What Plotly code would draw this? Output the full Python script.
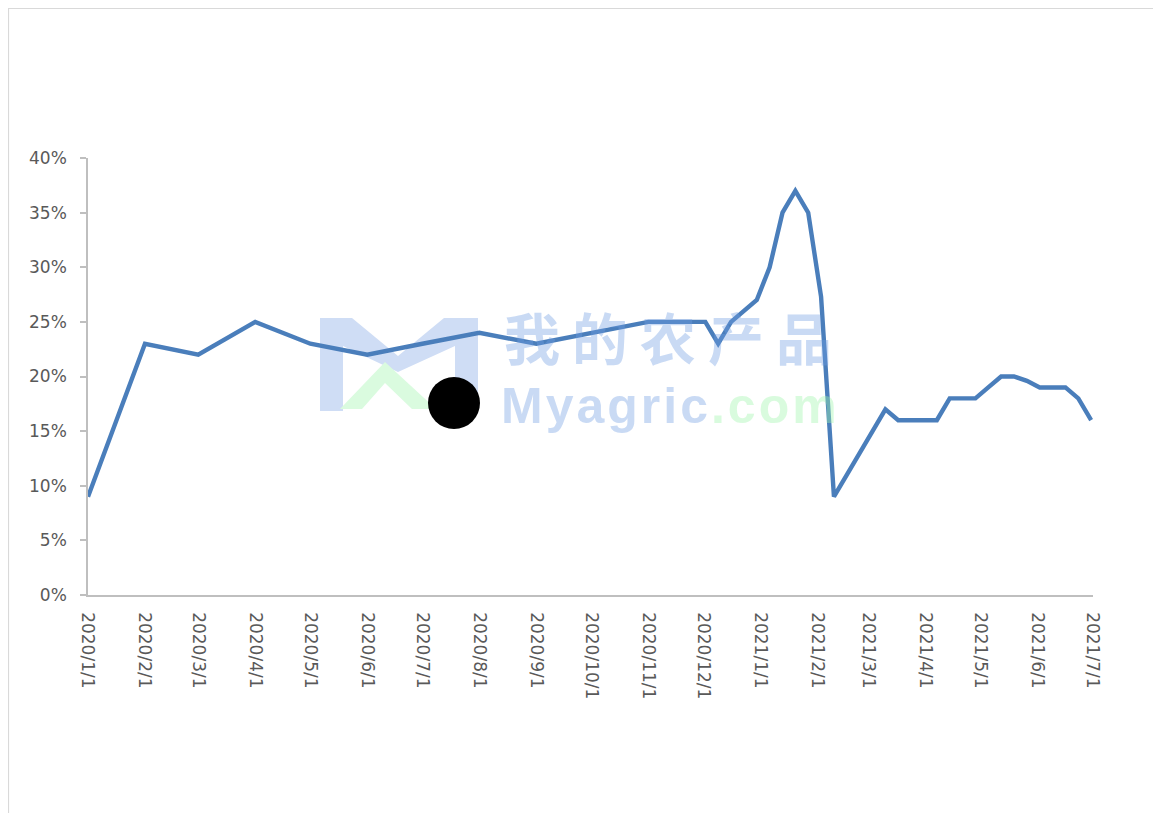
import plotly.graph_objects as go

# ---- data ----
dates = [
    "2020-01-01", "2020-02-01", "2020-03-01", "2020-04-01", "2020-05-01", "2020-06-01",
    "2020-07-01", "2020-08-01", "2020-09-01", "2020-10-01", "2020-11-01",
    "2020-12-02", "2020-12-09", "2020-12-16", "2020-12-23", "2020-12-30",
    "2021-01-06", "2021-01-13", "2021-01-20", "2021-01-27",
    "2021-02-03", "2021-02-10", "2021-02-17", "2021-02-24",
    "2021-03-03", "2021-03-10", "2021-03-17", "2021-03-24", "2021-03-31",
    "2021-04-07", "2021-04-14", "2021-04-21", "2021-04-28",
    "2021-05-05", "2021-05-12", "2021-05-19", "2021-05-26",
    "2021-06-02", "2021-06-09", "2021-06-16", "2021-06-23", "2021-06-30",
]
values = [
    0.09, 0.23, 0.22, 0.25, 0.23, 0.22,
    0.23, 0.24, 0.23, 0.24, 0.25,
    0.25, 0.23, 0.25, 0.26, 0.27,
    0.30, 0.35, 0.37, 0.35,
    0.273, 0.09, 0.11, 0.13,
    0.15, 0.17, 0.16, 0.16, 0.16,
    0.16, 0.18, 0.18, 0.18,
    0.19, 0.20, 0.20, 0.196,
    0.19, 0.19, 0.19, 0.18, 0.16,
]
tick_dates = [
    "2020-01-01", "2020-02-01", "2020-03-01", "2020-04-01", "2020-05-01", "2020-06-01",
    "2020-07-01", "2020-08-01", "2020-09-01", "2020-10-01", "2020-11-01", "2020-12-01",
    "2021-01-01", "2021-02-01", "2021-03-01", "2021-04-01", "2021-05-01", "2021-06-01",
    "2021-07-01",
]
tick_labels = [
    "2020/1/1", "2020/2/1", "2020/3/1", "2020/4/1", "2020/5/1", "2020/6/1",
    "2020/7/1", "2020/8/1", "2020/9/1", "2020/10/1", "2020/11/1", "2020/12/1",
    "2021/1/1", "2021/2/1", "2021/3/1", "2021/4/1", "2021/5/1", "2021/6/1",
    "2021/7/1",
]
y_ticks = [0, 0.05, 0.10, 0.15, 0.20, 0.25, 0.30, 0.35, 0.40]
watermark_cn = "我的农产品"
watermark_en = ["Myagric", ".com"]

# ---- layout geometry (screen pixels; page body has an 8px margin) ----
OFF = 8
W, H = 1161 - OFF, 813 - OFF
L, R, T, B = 88, 1093, 158, 595  # plot area in screen pixels
PW, PH = R - L, B - T


def px(x):
    return (x - L) / PW


def py(y):
    return (B - y) / PH


def path(points):
    return "M " + " L ".join(f"{px(x):.5f},{py(y):.5f}" for x, y in points) + " Z"


fig = go.Figure()
fig.add_trace(go.Scatter(
    x=dates, y=values, mode="lines",
    line=dict(color="#4a7ebb", width=4.4),
    showlegend=False, hoverinfo="x+y",
))

shapes = [
    # outer frame
    dict(type="rect", xref="paper", yref="paper",
         x0=px(8.5), x1=px(1159), y0=py(830), y1=py(8.5),
         line=dict(color="#d9d9d9", width=1.2), layer="below"),
    # watermark logo (blue M)
    dict(type="path", xref="paper", yref="paper",
         path=path([(320, 411), (320, 318), (352, 318), (398, 356), (444, 318),
                    (478, 318), (478, 411), (455, 411), (455, 346), (398, 372),
                    (343, 346), (343, 411)]),
         fillcolor="#cfddf5", line=dict(width=0), layer="below"),
    # watermark logo (green house)
    dict(type="path", xref="paper", yref="paper",
         path=path([(340, 409), (385, 362), (436, 409), (412, 409), (385, 383), (362, 409)]),
         fillcolor="#dafbdf", line=dict(width=0), layer="below"),
    # black dot
    dict(type="circle", xref="paper", yref="paper",
         x0=px(428), x1=px(480), y0=py(429), y1=py(377),
         fillcolor="black", line=dict(color="black", width=0)),
]

blue = "rgba(112,157,225,0.38)"
green = "rgba(160,245,172,0.4)"
SPLIT = 377

annotations = [
    dict(xref="paper", yref="paper", x=px(674), y=py(SPLIT),
         text=f"<b><span style='letter-spacing:12px'>{watermark_cn}</span></b>",
         showarrow=False, xanchor="center", yanchor="bottom", borderpad=0,
         font=dict(family="Noto Sans CJK SC", size=56, color=blue)),
    dict(xref="paper", yref="paper", x=px(670), y=py(SPLIT),
         text=(f"<b><span style='letter-spacing:3px;color:{blue}'>{watermark_en[0]}</span>"
               f"<span style='letter-spacing:3px;color:{green}'>{watermark_en[1]}</span></b>"),
         showarrow=False, xanchor="center", yanchor="top", borderpad=0,
         font=dict(family="Liberation Sans", size=50, color="rgb(160,190,235)")),
]

fig.update_layout(
    width=W, height=H,
    margin=dict(l=L - OFF, r=W + OFF - R, t=T - OFF, b=H + OFF - B, pad=0),
    paper_bgcolor="white", plot_bgcolor="white",
    shapes=shapes, annotations=annotations,
    font=dict(family="DejaVu Sans", size=17, color="#595959"),
    xaxis=dict(
        type="date", range=[tick_dates[0], tick_dates[-1]],
        tickmode="array", tickvals=tick_dates, ticktext=tick_labels,
        tickangle=90, showgrid=False, zeroline=False,
        showline=True, linecolor="#bfbfbf", linewidth=1.5,
        ticks="", ticklabelstandoff=12,
        tickfont=dict(family="DejaVu Sans", size=17, color="#595959"),
    ),
    yaxis=dict(
        range=[0, 0.40], tickmode="array", tickvals=y_ticks, tickformat=".0%",
        showgrid=False, zeroline=False,
        showline=True, linecolor="#bfbfbf", linewidth=1.5,
        ticks="outside", ticklen=6, tickcolor="#bfbfbf", tickwidth=1.5,
        ticklabelstandoff=10,
        tickfont=dict(family="DejaVu Sans", size=17, color="#595959"),
    ),
)

fig.write_html("out.html")
